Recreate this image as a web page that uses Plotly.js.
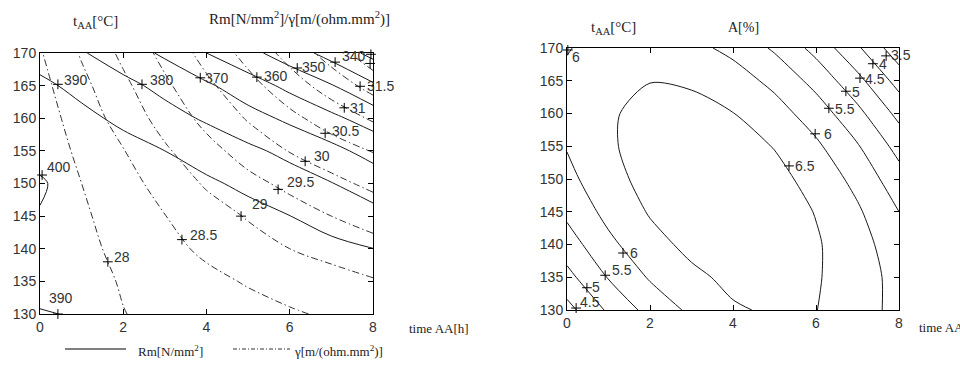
<!DOCTYPE html>
<html><head><meta charset="utf-8">
<script src="https://cdn.plot.ly/plotly-3.0.1.min.js"></script>
<style>html,body{margin:0;padding:0;background:#fff;}#chart{width:960px;height:366px;}</style>
</head><body><div id="chart"></div>
<script>
// grid (aging time [h] x aging temperature [°C])
const timeH = [0,1,2,3,4,5,6,7,8];
const tempC = [130,135,140,145,150,155,160,165,170];

// Rm [N/mm2] estimated from the contour picture (rows = tempC)
const rm = [
  [389.2, 391.0, 392.0, 392.7, 393.2, 393.6, 393.9, 394.0, 394.0],
  [394.2, 394.5, 394.7, 394.8, 394.8, 394.6, 394.3, 393.8, 393.2],
  [397.8, 397.7, 397.3, 396.8, 396.0, 395.0, 393.7, 392.1, 390.1],
  [399.85,399.25,398.4, 397.1, 395.2, 392.9, 390.1, 386.7, 382.9],
  [400.3, 398.7, 396.7, 394.3, 391.4, 388.1, 384.4, 380.3, 375.7],
  [399.1, 396.4, 393.4, 390.0, 386.2, 382.0, 377.5, 372.7, 366.5],
  [396.4, 392.3, 388.0, 383.5, 378.8, 373.6, 368.1, 362.1, 355.7],
  [392.0, 387.4, 382.6, 377.3, 371.5, 364.6, 357.6, 350.6, 341.4],
  [386.0, 380.8, 374.9, 368.4, 360.0, 352.9, 345.0, 336.4, 327.3]
];
// gamma [m/(ohm.mm2)]
const gammaV = [
  [27.75, 27.87, 27.99, 28.10, 28.22, 28.33, 28.45, 28.56, 28.65],
  [27.69, 27.86, 28.03, 28.21, 28.38, 28.54, 28.68, 28.82, 28.96],
  [27.64, 27.88, 28.12, 28.36, 28.59, 28.79, 29.00, 29.16, 29.32],
  [27.65, 27.93, 28.21, 28.49, 28.77, 29.04, 29.27, 29.50, 29.70],
  [27.68, 28.00, 28.32, 28.68, 29.06, 29.36, 29.62, 29.87, 30.11],
  [27.71, 28.10, 28.48, 28.93, 29.34, 29.70, 30.02, 30.27, 30.52],
  [27.76, 28.23, 28.70, 29.19, 29.64, 30.04, 30.38, 30.72, 31.06],
  [27.85, 28.37, 28.89, 29.41, 29.90, 30.34, 30.78, 31.21, 31.68],
  [27.96, 28.55, 29.11, 29.65, 30.17, 30.66, 31.17, 31.72, 32.37]
];
// A [%]
const elong = [
  [4.33, 5.08, 5.67, 6.10, 6.45, 6.56, 6.51, 6.22, 5.85],
  [4.85, 5.53, 6.05, 6.40, 6.61, 6.66, 6.54, 6.26, 5.82],
  [5.27, 5.88, 6.34, 6.62, 6.77, 6.74, 6.55, 6.21, 5.70],
  [5.61, 6.15, 6.54, 6.77, 6.83, 6.74, 6.48, 6.07, 5.50],
  [5.86, 6.34, 6.66, 6.81, 6.81, 6.65, 6.33, 5.85, 5.20],
  [6.03, 6.44, 6.69, 6.78, 6.71, 6.48, 6.09, 5.54, 4.83],
  [6.10, 6.45, 6.63, 6.65, 6.51, 6.21, 5.76, 5.14, 4.36],
  [6.10, 6.37, 6.49, 6.44, 6.23, 5.87, 5.34, 4.65, 3.81],
  [5.97, 6.21, 6.25, 6.14, 5.87, 5.43, 4.84, 4.08, 3.17]
];

// contour labels (text, marker position, text position)
const rmLabText = ['390','380','370','360','350','340','330','400','390'];
const rmMarkX = [0.43, 2.45, 3.85, 5.21, 6.18, 7.09, 7.95, 0.05, 0.43];
const rmMarkY = [165.2,165.2,166.2,166.3,167.7,168.6,169.8,151.3,130.0];
const rmTextX = [0.53, 2.60, 3.92, 5.34, 6.25, 7.21, 8.05, 0.12, 0.17];
const rmTextY = [165.9,165.9,166.2,166.5,167.85,169.5,171.7,152.5,132.45];

const gLabText = ['32','31.5','31','30.5','30','29.5','29','28.5','28'];
const gMarkX = [7.93, 7.69, 7.31, 6.85, 6.37, 5.72, 4.83, 3.41, 1.63];
const gMarkY = [168.4,164.9,161.6,157.7,153.4,149.1,145.0,141.4,138.0];
const gTextX = [8.05, 7.81, 7.40, 6.97, 6.54, 5.89, 5.05, 3.56, 1.73];
const gTextY = [167.85,164.94,161.6,158.05,154.2,150.2,146.9,142.1,138.7];

const aLabText = ['3.5','4','4.5','5','5.5','6','6.5','6','6','5.5','5','4.5'];
const aMarkX = [7.69, 7.37, 7.06, 6.72, 6.31, 5.98, 5.35, 0.02, 1.35, 0.92, 0.48, 0.22];
const aMarkY = [168.8,167.6,165.4,163.4,160.8,156.9,152.0,169.7,138.7,135.3,133.4,130.3];
const aTextX = [7.76, 7.47, 7.13, 6.82, 6.41, 6.14, 5.45, 0.07, 1.47, 1.04, 0.55, 0.27];
const aTextY = [168.9,167.5,165.3,163.3,160.7,156.9,152.0,168.6,138.7,136.1,133.5,131.2];

const xTicks = [0,2,4,6,8];
const yTicks = [130,135,140,145,150,155,160,165,170];

const W = 960, H = 366;
const px = v => v / W, py = v => 1 - v / H;
const sans = 'Liberation Sans, Arial, sans-serif';
const serif = 'Liberation Serif, Times New Roman, serif';
const lineCol = '#1a1a1a';

const traces = [
  {type:'contour', x:timeH, y:tempC, z:rm, xaxis:'x', yaxis:'y', showscale:false, hoverinfo:'skip',
   contours:{coloring:'none', start:330, end:400, size:10, showlabels:false},
   line:{color:lineCol, width:1, smoothing:1}},
  {type:'contour', x:timeH, y:tempC, z:gammaV, xaxis:'x', yaxis:'y', showscale:false, hoverinfo:'skip',
   contours:{coloring:'none', start:28, end:32, size:0.5, showlabels:false},
   line:{color:'#333', width:1, dash:'7px,3px,1.5px,3px', smoothing:1}},
  {type:'contour', x:timeH, y:tempC, z:elong, xaxis:'x2', yaxis:'y2', showscale:false, hoverinfo:'skip',
   contours:{coloring:'none', start:3.5, end:6.5, size:0.5, showlabels:false},
   line:{color:lineCol, width:1, smoothing:0.8}},
  {type:'scatter', mode:'markers', x:rmMarkX.concat(gMarkX), y:rmMarkY.concat(gMarkY), xaxis:'x', yaxis:'y',
   cliponaxis:false, hoverinfo:'skip',
   marker:{symbol:'cross-thin', size:7, color:'#000', line:{width:1, color:'#000'}}},
  {type:'scatter', mode:'markers', x:aMarkX, y:aMarkY, xaxis:'x2', yaxis:'y2',
   cliponaxis:false, hoverinfo:'skip',
   marker:{symbol:'cross-thin', size:7, color:'#000', line:{width:1, color:'#000'}}}
];

const annotations = [];
function addLabels(texts, xs, ys, xr, yr) {
  texts.forEach((t, i) => annotations.push({
    text:t, x:xs[i], y:ys[i], xref:xr, yref:yr, xanchor:'left', yanchor:'middle',
    showarrow:false, font:{family:sans, size:14, color:'#333'}
  }));
}
addLabels(rmLabText, rmTextX, rmTextY, 'x', 'y');
addLabels(gLabText, gTextX, gTextY, 'x', 'y');
addLabels(aLabText, aTextX, aTextY, 'x2', 'y2');

function paperText(text, x, y, font, size, anchor) {
  annotations.push({text:text, x:px(x), y:py(y), xref:'paper', yref:'paper',
    xanchor:anchor || 'left', yanchor:'middle', showarrow:false,
    font:{family:font, size:size, color:'#222'}});
}
paperText('t<sub>AA</sub>[°C]', 71, 22, serif, 15);
paperText('Rm[N/mm<sup>2</sup>]/γ[m/(ohm.mm<sup>2</sup>)]', 207, 19, serif, 15);
paperText('time AA[h]', 407, 328, serif, 13);
paperText('Rm[N/mm<sup>2</sup>]', 136, 351, serif, 13);
paperText('γ[m/(ohm.mm<sup>2</sup>)]', 292, 351, serif, 13);
paperText('t<sub>AA</sub>[°C]', 589, 28, serif, 15);
paperText('A[%]', 726, 28, serif, 14);
paperText('time AA[h]', 917, 327, serif, 13);

const shapes = [
  {type:'line', xref:'paper', yref:'paper', x0:px(65), x1:px(126), y0:py(349), y1:py(349),
   line:{color:'#000', width:1}},
  {type:'line', xref:'paper', yref:'paper', x0:px(233), x1:px(290), y0:py(349), y1:py(349),
   line:{color:'#333', width:1, dash:'4px,2px,1px,2px'}}
];

function axis(domain, range, ticks, anchor) {
  return {domain:domain, range:range, anchor:anchor, tickmode:'array', tickvals:ticks,
    ticks:'inside', ticklen:5, tickcolor:'#000', showline:true, linecolor:'#000', linewidth:1,
    mirror:'ticks', showgrid:false, zeroline:false, fixedrange:true,
    tickfont:{family:sans, size:14, color:'#333'}};
}

const layout = {
  width:W, height:H, margin:{l:0, r:0, t:0, b:0}, paper_bgcolor:'#fff', plot_bgcolor:'#fff',
  showlegend:false,
  xaxis: axis([px(40), px(373)], [0,8], xTicks, 'y'),
  yaxis: axis([py(314), py(53)], [130,170], yTicks, 'x'),
  xaxis2: axis([px(567), px(899)], [0,8], xTicks, 'y2'),
  yaxis2: axis([py(310), py(48)], [130,170], yTicks, 'x2'),
  annotations: annotations,
  shapes: shapes
};

Plotly.newPlot('chart', traces, layout, {displayModeBar:false, staticPlot:true});
</script></body></html>
